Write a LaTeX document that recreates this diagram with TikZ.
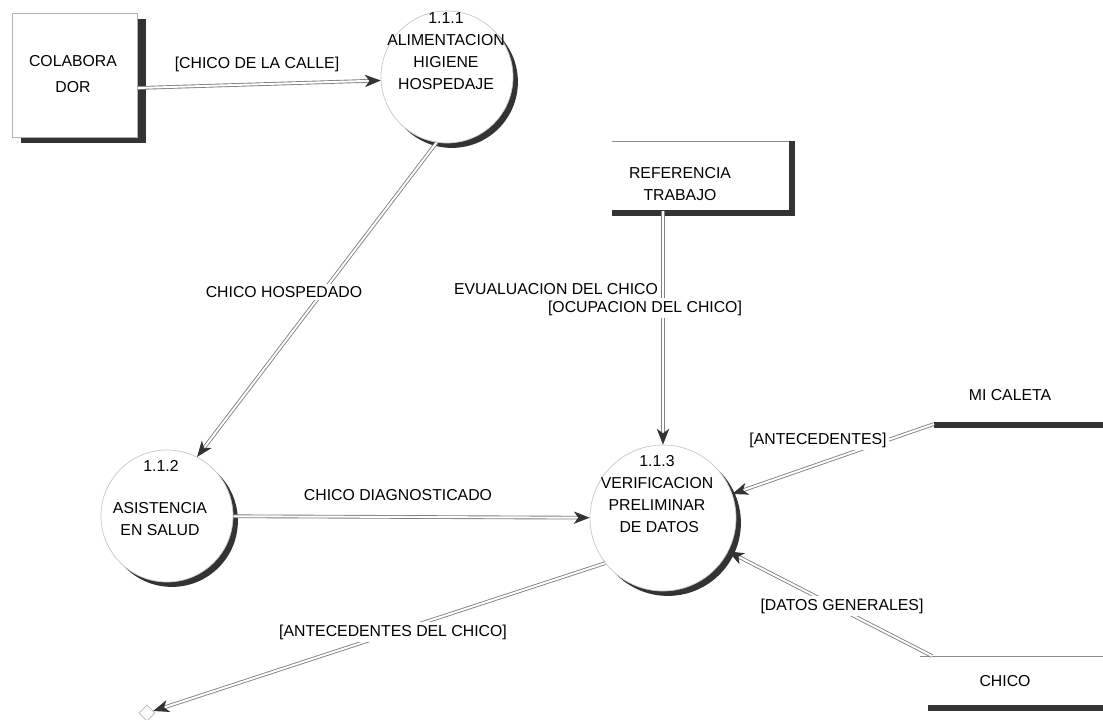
\documentclass[tikz,border=0pt]{standalone}
\usepackage{fontspec}
\setmainfont{Liberation Sans}
\usetikzlibrary{arrows.meta,shapes.geometric,shadows}

\tikzset{
  proc/.style={circle, draw=black!22, fill=white, minimum size=#1, inner sep=0pt,
    drop shadow={shadow xshift=2.8pt, shadow yshift=-2.8pt, fill=black!80, opacity=1}},
  ent/.style={rectangle, draw=black!30, fill=white, minimum width=2.5cm, minimum height=2.48cm,
    drop shadow={shadow xshift=5pt, shadow yshift=-3.4pt, fill=black!80, opacity=1}},
  txt/.style={align=center, font=\fontsize{9}{12.5}\selectfont},
  lbl/.style={font=\fontsize{9}{11}\selectfont, fill=white, inner sep=1.5pt},
  flow/.style={draw=black!50, double=white, double distance=1.1pt, line width=0.5pt,
    -{Stealth[length=9pt, width=7pt, inset=2.5pt, color=black!80, fill=black!80]}},
  thinrule/.style={draw=black!45, line width=0.5pt},
  thickrule/.style={draw=black!80, line width=3.6pt}
}

\begin{document}
\begin{tikzpicture}[x=0.02cm, y=-0.02cm]
\useasboundingbox (0,0) rectangle (1103,720);

% entidad externa y procesos
\node[ent] (colab) at (75,75) {};
\node[txt] (colabtxt) at (73,74) {COLABORA\\[2pt]DOR};
\node[proc=2.64cm] (p1) at (447,77) {};
\node[txt] (p1txt) at (446,51) {1.1.1\\ALIMENTACION\\HIGIENE\\HOSPEDAJE};
\node[proc=2.64cm] (p2) at (167,516) {};
\node[txt] (p2num) at (161,466) {1.1.2};
\node[txt] (p2txt) at (160,519) {ASISTENCIA\\EN SALUD};
\node[proc=2.92cm] (p3) at (663,518) {};
\node[txt] (p3txt) at (657,494) {1.1.3\\VERIFICACION\\PRELIMINAR\\\ DE DATOS};

% almacenes
\draw[thinrule] (612,141) -- (795,141);
\draw[thickrule] (612,213) -- (795,213);
\draw[thickrule] (792,141) -- (792,215);
\node[txt] (ref) at (680,184) {REFERENCIA\\TRABAJO};
\draw[thickrule] (934,425) -- (1103,425);
\node[txt] (caleta) at (1010,395) {MI CALETA};
\draw[thinrule] (920,656) -- (1103,656);
\draw[thickrule] (928,708) -- (1103,708);
\node[txt] (chico) at (1005,681) {CHICO};
\coordinate (refout) at (663,211);
\coordinate (caletaout) at (934,424);
\coordinate (chicoout) at (932,656);
\node[diamond, draw=black!30, minimum size=9pt, inner sep=0pt] (sink) at (147,713) {};

% flujos
\draw[flow] ([yshift=-0.26cm]colab.east) -- (p1.183);
\draw[flow] (p1.261) -- (p2.63);
\draw[flow] (refout) -- (p3);
\draw[flow] (p2) -- (p3);
\draw[flow] (caletaout) -- (p3);
\draw[flow] (chicoout) -- (p3);
\draw[flow] (p3.218) -- (sink);

\node[lbl] (l1) at (257,64) {[CHICO DE LA CALLE]};
\node[lbl] (l2) at (284,292) {CHICO HOSPEDADO};
\node[lbl] (l3a) at (556,289) {EVUALUACION DEL CHICO};
\node[lbl] (l3b) at (645,308) {[OCUPACION DEL CHICO]};
\node[lbl] (l4) at (398,495) {CHICO DIAGNOSTICADO};
\node[lbl] (l5) at (818,440) {[ANTECEDENTES]};
\node[lbl] (l6) at (842,606) {[DATOS GENERALES]};
\node[lbl] (l7) at (393,632) {[ANTECEDENTES DEL CHICO]};
\end{tikzpicture}
\end{document}
